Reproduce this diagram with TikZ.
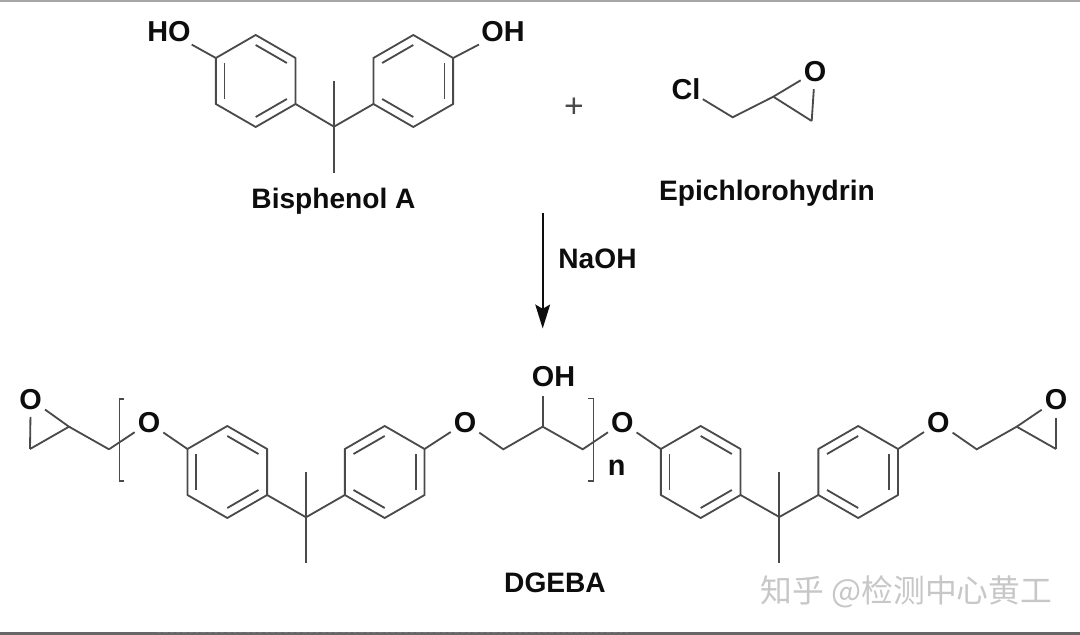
\documentclass[tikz,border=0pt]{standalone}
\usepackage{fontspec}
\setmainfont{Liberation Sans}
\newfontfamily\cjk{Noto Sans CJK SC}
\usetikzlibrary{arrows.meta,calc}
\definecolor{bondgray}{HTML}{4A4A4A}
\tikzset{
  bond/.style={bondgray,line width=1.3pt},
  atom/.style={font=\fontsize{20.5}{24}\selectfont\bfseries,inner sep=1.5pt,text=black!95},
  oxy/.style={atom,inner sep=2pt},
  caption/.style={font=\fontsize{20}{24}\selectfont\bfseries,inner sep=0pt,text=black!95}
}
% hexagon around a centre: corners are named <name>30, <name>90 and so on
\newcommand{\benzene}[3]{
  \foreach \a in {30,90,...,330}{\coordinate (#1\a) at ($(#2)+(\a:46)$);}
  \draw[bond,line join=round] (#130)--(#190)--(#1150)--(#1210)--(#1270)--(#1330)--cycle;
  \foreach \a in {#3}{\draw[bond] ($(#2)+(\a:36)$)--($(#2)+(\a+60:36)$);}
}
\begin{document}
\begin{tikzpicture}[x=0.025cm,y=0.025cm]
\useasboundingbox (0,0) rectangle (1080,-635);
\fill[white] (0,0) rectangle (1080,-635);
% page edges
\draw[gray!70,line width=1.5pt] (0,-0.7)--(1080,-0.7);
\draw[black!60,line width=1.5pt] (0,-633.5)--(1080,-633.5);
\draw[black!55,line width=0.7pt,dash pattern=on 3pt off 1.5pt] (157,-632)--(628,-632);
% bisphenol A
\benzene{pa}{255.7,-81}{30,150,270}
\benzene{pb}{413.3,-81}{90,210,330}
\coordinate (ca) at (334,-126.7);
\coordinate (cau) at (334,-81);
\coordinate (cad) at (334,-172.7);
\node[atom] (hoa) at (169,-32) {HO};
\node[atom] (hob) at (503,-32) {OH};
\draw[bond] (hoa)--(pa150);
\draw[bond] (hob)--(pb30);
\draw[bond] (pa330)--(ca)--(pb210);
\draw[bond] (cau)--(cad);
\node[caption] (bpa) at (333.5,-201.5) {Bisphenol A};
\node[font=\fontsize{24}{28}\selectfont,inner sep=0pt,text=bondgray] (plus) at (574,-107.7) {+};
% epichlorohydrin
\coordinate (ech2) at (732.7,-117.3);
\coordinate (ech) at (773.3,-96.7);
\coordinate (ecr) at (811.7,-121);
\node[atom] (ecl) at (686,-89) {Cl};
\node[oxy] (eo) at (815,-71.7) {O};
\draw[bond] (ecl)--(ech2)--(ech)--(eo);
\draw[bond] (ech)--(ecr);
\draw[bond,shorten <=3pt] (eo)--(ecr);
\node[caption] (epi) at (767,-193.5) {Epichlorohydrin};
% reaction arrow
\coordinate (arra) at (542.7,-213);
\coordinate (arrb) at (542.7,-328.5);
\draw[black!95,line width=1.5pt,-{Stealth[length=17pt,width=10.5pt,inset=3pt]}] (arra)--(arrb);
\node[caption] (naoh) at (597.5,-259) {NaOH};
% left epoxide
\node[oxy] (oa) at (30.7,-399.3) {O};
\coordinate (la) at (69,-426.7);
\coordinate (lb) at (30,-449);
\coordinate (lc) at (109,-449.3);
\draw[bond] (oa)--(la)--(lb);
\draw[bond,shorten <=3pt] (oa)--(lb);
\draw[bond] (la)--(lc);
\node[oxy] (ob) at (149,-422.7) {O};
\draw[bond] (lc)--(ob);
% repeat unit
\benzene{ra}{227.3,-472}{30,150,270}
\benzene{rb}{384.7,-472}{90,210,330}
\coordinate (cb) at (306,-517.3);
\coordinate (cbu) at (306,-472.5);
\coordinate (cbd) at (306,-563.3);
\draw[bond] (ob)--(ra150);
\draw[bond] (ra330)--(cb)--(rb210);
\draw[bond] (cbu)--(cbd);
\node[oxy] (oc) at (465,-422.7) {O};
\coordinate (ma) at (503.3,-449.3);
\coordinate (mb) at (542.7,-426.7);
\coordinate (mc) at (582.7,-449.3);
\coordinate (md) at (542.7,-395.7);
\node[atom] (ohm) at (553.5,-377) {OH};
\node[oxy] (od) at (622.3,-422.7) {O};
\draw[bond] (rb30)--(oc)--(ma)--(mb)--(mc)--(od);
\draw[bond] (mb)--(md);
% brackets
\draw[bond,line width=1pt] (124,-399)--(119.3,-399)--(119.3,-481)--(124,-481);
\draw[bond,line width=1pt] (588.3,-398.5)--(593.7,-398.5)--(593.7,-481)--(588.3,-481);
\node[atom] (nn) at (616.7,-468) {n};
% end unit
\benzene{sa}{700.7,-472}{30,150,270}
\benzene{sb}{858.2,-472}{90,210,330}
\coordinate (cc) at (779.3,-517);
\coordinate (ccu) at (779.3,-472.3);
\coordinate (ccd) at (779.3,-563.3);
\draw[bond] (od)--(sa150);
\draw[bond] (sa330)--(cc)--(sb210);
\draw[bond] (ccu)--(ccd);
\node[oxy] (oe) at (938.3,-422.7) {O};
\coordinate (ra) at (976.7,-449.3);
\coordinate (rc) at (1016.7,-426.7);
\coordinate (rd) at (1056,-449);
\node[oxy] (of) at (1056,-400) {O};
\draw[bond] (sb30)--(oe)--(ra)--(rc)--(of);
\draw[bond] (rc)--(rd);
\draw[bond,shorten <=3pt] (of)--(rd);
\node[caption] (dgeba) at (555,-583) {DGEBA};
% watermark
\node[font=\cjk\fontsize{22.6}{26}\selectfont,text=black!22,inner sep=0pt] (mark) at (906.5,-591.5) {知乎 @检测中心黄工};
\end{tikzpicture}
\end{document}
